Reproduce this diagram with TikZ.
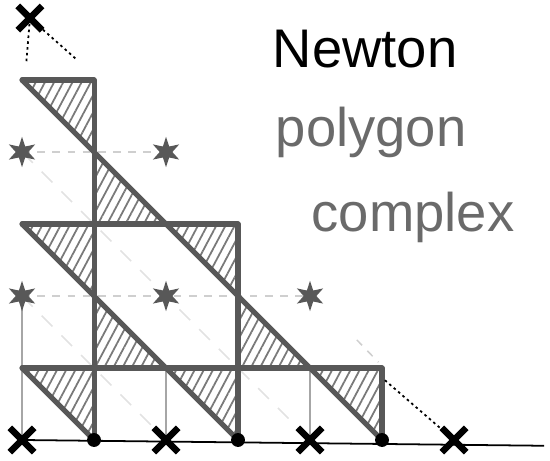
\documentclass[tikz,border=0pt]{standalone}
\usepackage{fontspec}
\setmainfont{Liberation Sans}
\usetikzlibrary{patterns.meta,shapes.geometric,shapes.misc}
\definecolor{npcInk}{HTML}{585858}
\definecolor{npcFaint}{HTML}{CFCFCF}
\definecolor{npcGhost}{HTML}{E2E2E2}
\definecolor{npcText}{HTML}{6A6A6A}
\tikzset{
  npc cell/.style={draw=npcInk, line width=2pt, line cap=round, line join=round},
  npc hatch/.style={pattern={Lines[angle=62, distance=3.2pt, line width=0.7pt]}, pattern color=npcInk!80},
  npc guide/.style={draw=npcFaint, line width=0.6pt, dashed},
  npc ghost/.style={draw=npcGhost, line width=0.6pt, dash pattern=on 6pt off 5pt},
  npc thin/.style={draw=npcFaint!80!black, line width=0.6pt},
  npc hull/.style={draw=black, line width=0.7pt, dash pattern=on 1pt off 1.3pt},
  npc base/.style={draw=black, line width=0.7pt},
  npc cross/.style={cross out, draw=black, line width=2.6pt, minimum size=7pt, inner sep=0pt},
  npc star/.style={star, star points=6, star point ratio=2.4, fill=npcInk, minimum size=12pt, inner sep=0pt},
  npc dot/.style={circle, fill=black, minimum size=5.5pt, inner sep=0pt},
  npc label/.style={font=\fontsize{21.5}{26}\selectfont, anchor=base west},
}

\begin{document}
\begin{tikzpicture}
  \useasboundingbox (-0.306,-0.278) rectangle (7.333,6.111);
  % lattice points
  \foreach \i in {0,...,6}
    \foreach \j in {0,...,6}
      \coordinate (p\i\j) at (\i,\j);
  \coordinate (top) at (0.11,5.86);
  \coordinate (topB) at (0.06,5.25);
  \coordinate (hullA) at (0.74,5.3);
  \coordinate (hullB) at (5.04,0.83);
  \coordinate (faintA) at (4.65,1.39);
  \coordinate (faintB) at (4.95,1.08);
  \coordinate (baseEnd) at (7.25,-0.08);

  % Faint guide lines
  \draw[npc guide] (p02) -- (p42);
  \draw[npc guide] (p04) -- (p24);
  \draw[npc ghost] (p02) -- (p20);
  \draw[npc ghost] (p04) -- (p40);
  \draw[npc guide] (faintA) -- (faintB);
  \draw[npc thin] (p02) -- (p00);
  \draw[npc thin] (p21) -- (p20);
  \draw[npc thin] (p41) -- (p40);

  % Hatched triangles
  \foreach \a/\b/\c in {p05/p15/p14, p14/p13/p23, p23/p33/p32, p32/p31/p41, p41/p51/p50,
                        p03/p13/p12, p12/p11/p21, p21/p31/p30, p01/p11/p10}
    \path[npc hatch] (\a) -- (\b) -- (\c) -- cycle;

  % Cells of the complex
  \draw[npc cell] (p01) -- (p51);
  \draw[npc cell] (p03) -- (p33);
  \draw[npc cell] (p05) -- (p15);
  \draw[npc cell] (p10) -- (p15);
  \draw[npc cell] (p30) -- (p33);
  \draw[npc cell] (p50) -- (p51);
  \draw[npc cell] (p05) -- (p50);
  \draw[npc cell] (p03) -- (p30);
  \draw[npc cell] (p01) -- (p10);

  % Base line and hull
  \draw[npc base] (p00) -- (baseEnd);
  \draw[npc hull] (top) -- (topB);
  \draw[npc hull] (top) -- (hullA);
  \draw[npc hull] (hullB) -- (p60);

  % Marks
  \foreach \p in {p00,p20,p40,p60,top}
    \node[npc cross] (x\p) at (\p) {};
  \foreach \p in {p02,p22,p42,p04,p24}
    \node[npc star] (s\p) at (\p) {};
  \foreach \p in {p10,p30,p50}
    \node[npc dot] (d\p) at (\p) {};

  % Title
  \node[npc label, text=black] (newton) at (3.36,5.18) {Newton};
  \node[npc label, text=npcText] (polygon) at (3.4,4.07) {polygon};
  \node[npc label, text=npcText] (complex) at (3.9,2.89) {complex};
\end{tikzpicture}
\end{document}
